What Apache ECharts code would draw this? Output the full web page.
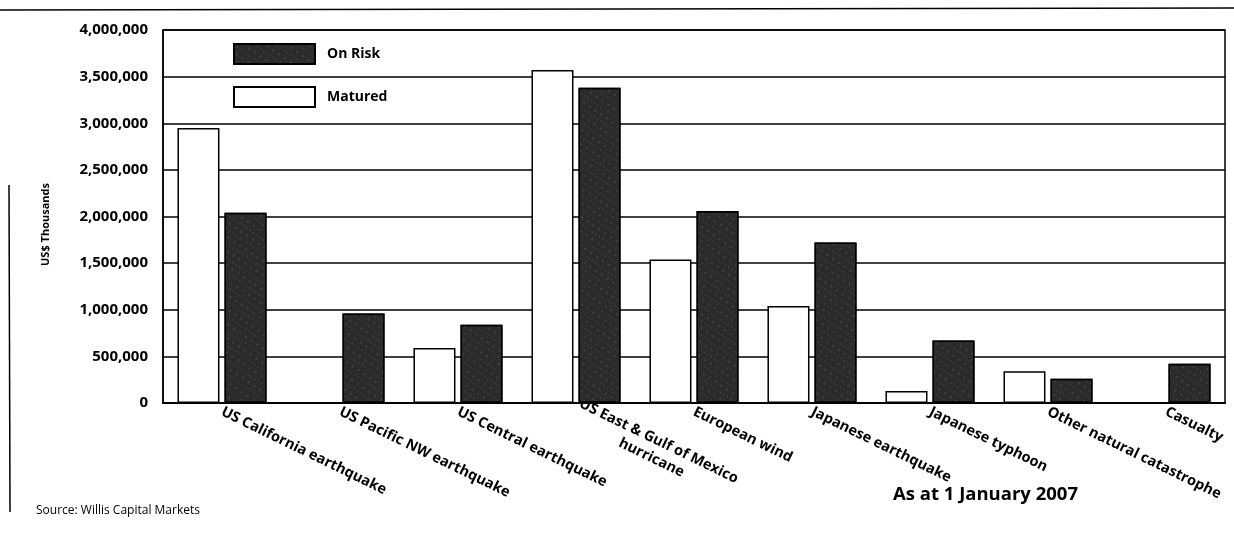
<!DOCTYPE html>
<html>
<head>
<meta charset="utf-8">
<script src="https://cdn.jsdelivr.net/npm/echarts@6/dist/echarts.min.js"></script>
<style>
html,body{margin:0;padding:0;background:#fff;}
#chart{width:1234px;height:533px;}
</style>
</head>
<body>
<div id="chart"></div>
<script>
const categories = [
  "US California earthquake",
  "US Pacific NW earthquake",
  "US Central earthquake",
  "US East & Gulf of Mexico\n              hurricane",
  "European wind",
  "Japanese earthquake",
  "Japanese typhoon",
  "Other natural catastrophe",
  "Casualty"
];
const matured = [2950000, 0, 590000, 3570000, 1540000, 1040000, 130000, 340000, 0];
const onRisk  = [2040000, 960000, 840000, 3380000, 2060000, 1720000, 670000, 260000, 420000];
const yTicks = [0, 500000, 1000000, 1500000, 2000000, 2500000, 3000000, 3500000, 4000000];

const FONT = '"Open Sans", "Noto Sans", sans-serif';
const chart = echarts.init(document.getElementById('chart'), null, {renderer: 'canvas'});
chart.setOption({
  backgroundColor: '#fff',
  animation: false,
  textStyle: {fontFamily: FONT},
  grid: {left: 163, right: 9, top: 30, bottom: 130, containLabel: false, outerBoundsMode: 'none',
         show: true, borderColor: '#000', borderWidth: 1.5, backgroundColor: 'transparent'},
  legend: {
    orient: 'vertical', left: 228, top: 38, itemWidth: 81, itemHeight: 20, itemGap: 21,
    icon: 'rect',
    data: ['On Risk', 'Matured'],
    textStyle: {fontFamily: FONT, fontWeight: 'bold', fontSize: 14, color: '#000', padding: [0,0,0,7]}
  },
  xAxis: {
    type: 'category', data: categories,
    axisLine: {lineStyle: {color: '#000', width: 2}},
    axisTick: {show: false},
    axisLabel: {rotate: -26, interval: 0, fontFamily: FONT, fontWeight: 'bold', fontSize: 14.5, lineHeight: 18, color: '#000', margin: 8}
  },
  yAxis: {
    type: 'value', min: yTicks[0], max: yTicks[yTicks.length-1], interval: 500000,
    name: 'US$ Thousands', nameLocation: 'middle', nameGap: 112,
    nameTextStyle: {fontFamily: FONT, fontWeight: 'bold', fontSize: 11, color: '#000', padding: [0,16,0,0]},
    axisLine: {show: true, lineStyle: {color: '#000', width: 1.5}},
    axisTick: {show: false},
    splitLine: {lineStyle: {color: '#000', width: 1.5}},
    axisLabel: {fontFamily: FONT, fontWeight: 'bold', fontSize: 15, color: '#000', margin: 15,
      formatter: v => v.toLocaleString('en-US')}
  },
  series: [
    {name: 'Matured', type: 'bar', data: matured, barWidth: 42, barGap: '12%',
     itemStyle: {color: '#fff', borderColor: '#000', borderWidth: 1.5}},
    {name: 'On Risk', type: 'bar', data: onRisk, barWidth: 42,
     itemStyle: {color: '#2b2b2b', borderColor: '#000', borderWidth: 1.5,
       decal: {symbol: 'rect', symbolSize: 0.6, color: 'rgba(255,255,255,0.35)',
               dashArrayX: [[2, 5], [1, 3]], dashArrayY: [2, 4], rotation: 0.6}}}
  ],
  graphic: [
    {type: 'line', shape: {x1: 0, y1: 10, x2: 1234, y2: 8}, style: {stroke: '#000', lineWidth: 1.5}},
    {type: 'line', shape: {x1: 9, y1: 185, x2: 10, y2: 512}, style: {stroke: '#000', lineWidth: 1.5}},
    {type: 'text', left: 36, top: 505, style: {text: 'Source: Willis Capital Markets', font: '12px ' + FONT, fill: '#000'}},
    {type: 'text', left: 893, top: 485, style: {text: 'As at 1 January 2007', font: 'bold 18.5px ' + FONT, fill: '#000'}}
  ]
});
</script>
</body>
</html>
